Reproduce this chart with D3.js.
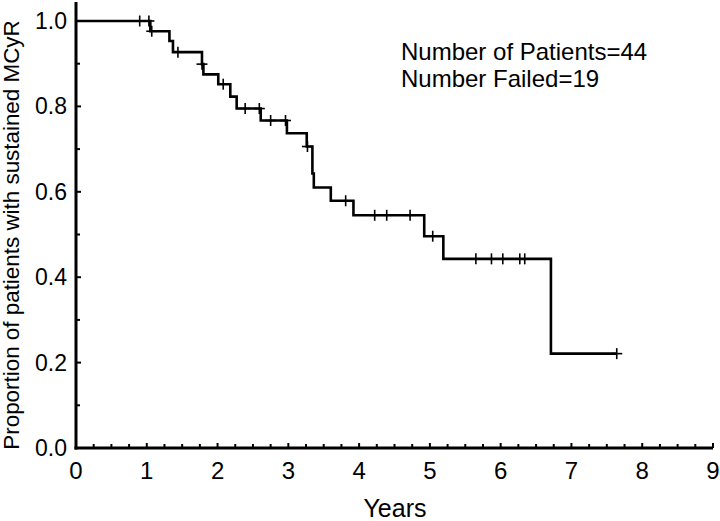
<!DOCTYPE html>
<html>
<head>
<meta charset="utf-8">
<script src="https://cdn.jsdelivr.net/npm/d3@7"></script>
<style>
  html, body { margin: 0; padding: 0; background: #fff; }
  svg { display: block; }
  text { font-family: "Liberation Sans", Arial, sans-serif; fill: #000; }
</style>
</head>
<body>
<svg id="chart" width="720" height="521"></svg>
<script>
// Kaplan-Meier step data
const stepTimes = [0, 1.05, 1.32, 1.37, 1.78, 1.80, 2.01, 2.18, 2.27, 2.61, 2.98, 3.26, 3.34, 3.36, 3.60, 3.92, 4.92, 5.19, 6.71];
const stepSurv  = [1.0, 0.976, 0.953, 0.927, 0.899, 0.875, 0.852, 0.823, 0.795, 0.767, 0.737, 0.706, 0.643, 0.610, 0.579, 0.545, 0.496, 0.443, 0.221];
const lastTime = 7.64;
const censorTimes = [0.90, 1.03, 1.07, 1.44, 1.78, 2.08, 2.39, 2.59, 2.75, 2.96, 3.27, 3.81, 4.22, 4.39, 4.72, 5.04, 5.65, 5.87, 6.03, 6.27, 6.34, 7.64];
const xTicks = [0, 1, 2, 3, 4, 5, 6, 7, 8, 9];
const yTicks = [0.0, 0.2, 0.4, 0.6, 0.8, 1.0];
const annotation = ["Number of Patients=44", "Number Failed=19"];
const xTitle = "Years";
const yTitle = "Proportion of patients with sustained MCyR";

const svg = d3.select("#chart");
const x = d3.scaleLinear().domain([0, 9]).range([76, 713]);
const y = d3.scaleLinear().domain([0, 1]).range([448, 21]);

// survival at time t
function survAt(t) {
  let s = stepSurv[0];
  for (let i = 0; i < stepTimes.length; i++) if (stepTimes[i] <= t) s = stepSurv[i];
  return s;
}

// minor ticks
const xMinor = d3.range(0, 9.001, 0.25);
svg.append("g").selectAll("line").data(xMinor).join("line")
  .attr("x1", d => x(d)).attr("x2", d => x(d))
  .attr("y1", y(0)).attr("y2", d => y(0) - (Number.isInteger(d) ? 5 : 4))
  .attr("stroke", "#000").attr("stroke-width", 2);
const yMinor = d3.range(0, 1.001, 0.1);
svg.append("g").selectAll("line").data(yMinor).join("line")
  .attr("x1", x(0)).attr("x2", (d, i) => x(0) + (i % 2 === 0 ? 5 : 4))
  .attr("y1", d => y(d)).attr("y2", d => y(d))
  .attr("stroke", "#000").attr("stroke-width", 2);

// axes lines
svg.append("line").attr("x1", x(0)).attr("x2", x(0)).attr("y1", 2).attr("y2", y(0) + 1.5)
  .attr("stroke", "#000").attr("stroke-width", 3);
svg.append("line").attr("x1", x(0) - 1.5).attr("x2", x(9)).attr("y1", y(0)).attr("y2", y(0))
  .attr("stroke", "#000").attr("stroke-width", 3);

// tick labels
svg.append("g").selectAll("text").data(xTicks).join("text")
  .attr("x", d => x(d)).attr("y", 479)
  .attr("text-anchor", "middle").attr("font-size", 24)
  .text(d => d);
svg.append("g").selectAll("text").data(yTicks).join("text")
  .attr("x", 67).attr("y", d => y(d) + 8)
  .attr("text-anchor", "end").attr("font-size", 23)
  .text(d => d.toFixed(1));

// axis titles
svg.append("text").attr("x", 395).attr("y", 517).attr("text-anchor", "middle")
  .attr("font-size", 25).text(xTitle);
svg.append("text").attr("transform", "translate(19,235) rotate(-90)")
  .attr("text-anchor", "middle").attr("font-size", 22.4).text(yTitle);

// curve
const pts = stepTimes.map((t, i) => [t, stepSurv[i]]);
pts.push([lastTime, stepSurv[stepSurv.length - 1]]);
const line = d3.line().x(d => x(d[0])).y(d => y(d[1])).curve(d3.curveStepAfter);
svg.append("path").attr("d", line(pts)).attr("fill", "none")
  .attr("stroke", "#000").attr("stroke-width", 2.6);

// censor marks
const cs = 5.5;
const cg = svg.append("g").attr("stroke", "#000").attr("stroke-width", 1.6);
censorTimes.forEach(t => {
  const cx = x(t), cy = y(survAt(t));
  cg.append("line").attr("x1", cx - cs).attr("x2", cx + cs).attr("y1", cy).attr("y2", cy);
  cg.append("line").attr("x1", cx).attr("x2", cx).attr("y1", cy - cs).attr("y2", cy + cs);
});

// annotation
svg.append("g").selectAll("text").data(annotation).join("text")
  .attr("x", 401).attr("y", (d, i) => 60 + i * 27)
  .attr("font-size", 24).text(d => d);
</script>
</body>
</html>
